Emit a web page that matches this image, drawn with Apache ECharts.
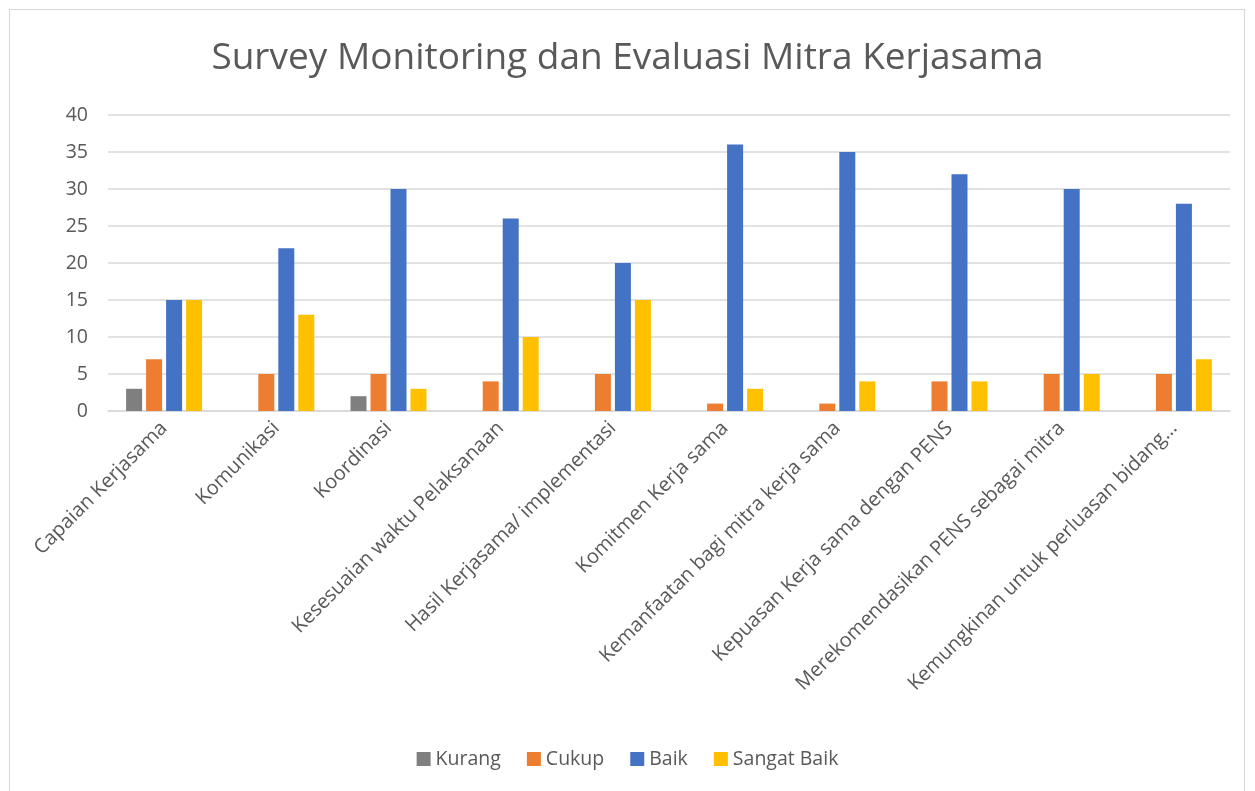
<!DOCTYPE html>
<html>
<head>
<meta charset="utf-8">
<script src="https://cdn.jsdelivr.net/npm/echarts@6/dist/echarts.min.js"></script>
<style>
  html, body { margin: 0; padding: 0; background: #fff; }
  #frame { position: absolute; left: 9px; top: 9px; width: 1236px; height: 790px; border: 1px solid #d9d9d9; box-sizing: border-box; }
  #chart { position: absolute; left: 0; top: 0; width: 1255px; height: 791px; }
</style>
</head>
<body>
<div id="frame"></div>
<div id="chart"></div>
<script>
// kategori survey
var categories = [
  'Capaian Kerjasama',
  'Komunikasi',
  'Koordinasi',
  'Kesesuaian waktu Pelaksanaan',
  'Hasil Kerjasama/ implementasi',
  'Komitmen Kerja sama',
  'Kemanfaatan bagi mitra kerja sama',
  'Kepuasan Kerja sama dengan PENS',
  'Merekomendasikan PENS sebagai mitra',
  'Kemungkinan untuk perluasan bidang…'
];
var kurang = [3, 0, 2, 0, 0, 0, 0, 0, 0, 0];
var cukup = [7, 5, 5, 4, 5, 1, 1, 4, 5, 5];
var baik = [15, 22, 30, 26, 20, 36, 35, 32, 30, 28];
var sangatBaik = [15, 13, 3, 10, 15, 3, 4, 4, 5, 7];

var font = '"Open Sans", "Noto Sans", sans-serif';

function bar (name, data, color) {
  return {
    name: name,
    type: 'bar',
    data: data,
    barWidth: 16,
    barGap: '25%',
    itemStyle: { color: color },
    emphasis: { disabled: true }
  };
}

var chart = echarts.init(document.getElementById('chart'));
chart.setOption({
  animation: false,
  title: {
    text: 'Survey Monitoring dan Evaluasi Mitra Kerjasama',
    left: 'center',
    top: 35,
    textStyle: { fontFamily: font, fontSize: 37, fontWeight: 'normal', color: '#595959' }
  },
  legend: {
    bottom: 17,
    left: 'center',
    itemWidth: 14,
    itemHeight: 14,
    itemGap: 26,
    icon: 'rect',
    textStyle: { fontFamily: font, fontSize: 19.5, color: '#595959' },
    data: ['Kurang', 'Cukup', 'Baik', 'Sangat Baik']
  },
  grid: { left: 108, right: 25, top: 115, height: 296, containLabel: false },
  xAxis: {
    type: 'category',
    data: categories,
    axisLine: { lineStyle: { color: '#d9d9d9', width: 1.5 } },
    axisTick: { show: false },
    axisLabel: {
      rotate: 45,
      interval: 0,
      margin: 14,
      fontFamily: font,
      fontSize: 20,
      color: '#595959'
    }
  },
  yAxis: {
    type: 'value',
    min: 0,
    max: 40,
    interval: 5,
    axisLine: { show: false },
    axisTick: { show: false },
    splitLine: { lineStyle: { color: '#d9d9d9', width: 1.5 } },
    axisLabel: { margin: 20, fontFamily: font, fontSize: 19.5, color: '#595959' }
  },
  series: [
    bar('Kurang', kurang, '#7f7f7f'),
    bar('Cukup', cukup, '#ed7d31'),
    bar('Baik', baik, '#4472c4'),
    bar('Sangat Baik', sangatBaik, '#ffc000')
  ]
});
</script>
</body>
</html>
